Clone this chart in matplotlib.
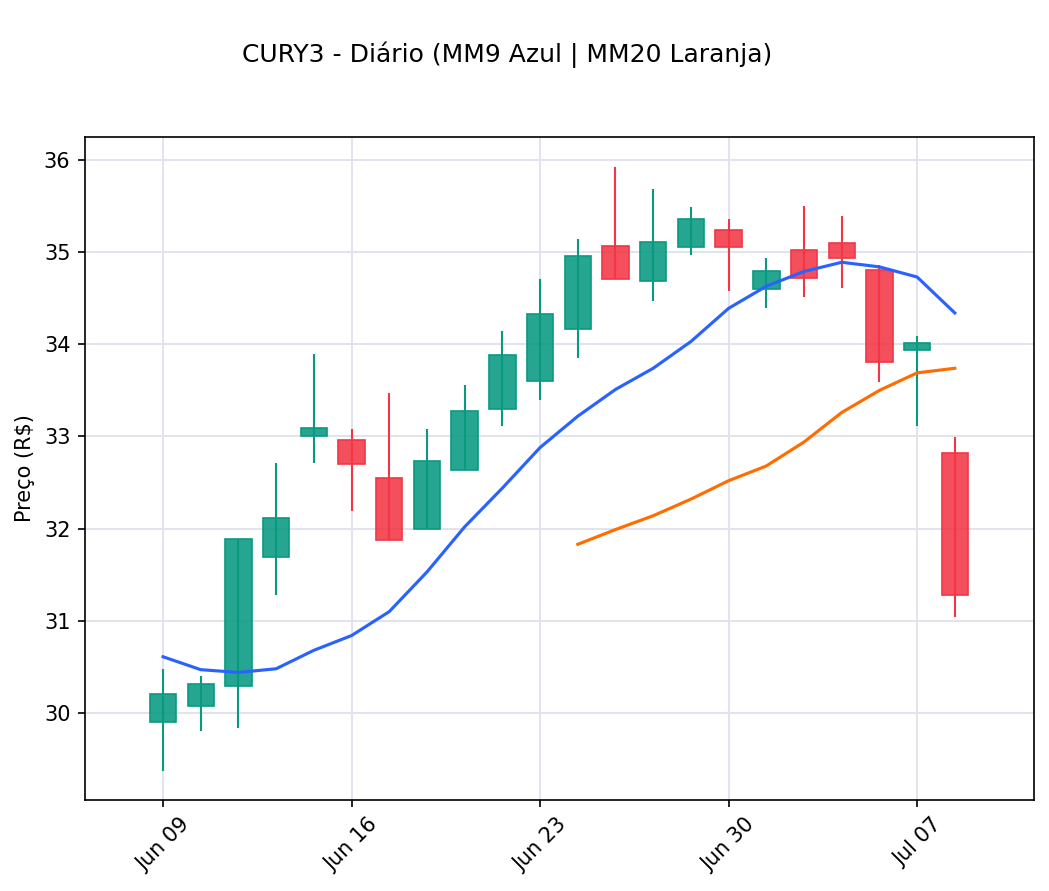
import matplotlib
matplotlib.use("Agg")
import matplotlib.pyplot as plt
import numpy as np
from matplotlib.patches import Rectangle
from matplotlib.colors import to_rgba

dates = ["Jun 09", "Jun 10", "Jun 11", "Jun 12", "Jun 13",
         "Jun 16", "Jun 17", "Jun 18", "Jun 19", "Jun 20",
         "Jun 23", "Jun 24", "Jun 25", "Jun 26", "Jun 27",
         "Jun 30", "Jul 01", "Jul 02", "Jul 03", "Jul 04",
         "Jul 07", "Jul 08"]
opens  = [29.90, 30.08, 30.29, 31.69, 33.00, 32.96, 32.55, 32.00, 32.64, 33.30,
          33.60, 34.17, 35.07, 34.69, 35.06, 35.24, 34.60, 35.02, 35.10, 34.81,
          33.94, 32.82]
highs  = [30.48, 30.40, 31.89, 32.71, 33.90, 33.08, 33.47, 33.08, 33.56, 34.14,
          34.71, 35.14, 35.92, 35.69, 35.49, 35.36, 34.94, 35.50, 35.39, 34.86,
          34.09, 32.99]
lows   = [29.37, 29.81, 29.84, 31.28, 32.71, 32.19, 31.88, 32.00, 32.64, 33.11,
          33.40, 33.85, 34.71, 34.47, 34.97, 34.58, 34.39, 34.51, 34.61, 33.59,
          33.11, 31.04]
closes = [30.21, 30.31, 31.89, 32.12, 33.09, 32.70, 31.88, 32.73, 33.28, 33.88,
          34.33, 34.96, 34.71, 35.11, 35.36, 35.06, 34.80, 34.72, 34.94, 33.81,
          34.01, 31.28]
mm9 = [30.61, 30.47, 30.44, 30.48, 30.68, 30.84, 31.10, 31.53, 32.02, 32.44,
       32.88, 33.22, 33.51, 33.74, 34.03, 34.39, 34.63, 34.79, 34.89, 34.84,
       34.73, 34.34]
mm20 = [np.nan] * 11 + [31.83, 31.99, 32.14, 32.32, 32.52, 32.68, 32.94, 33.26,
                        33.50, 33.69, 33.74]
tick_idx = [0, 5, 10, 15, 20]

up_color = "#089981"
dn_color = "#F23645"

W, H = 1049, 891
fig = plt.figure(figsize=(W/150, H/150), dpi=150)
ax = fig.add_axes([85/W, 1-800/H, (1034-85)/W, (800-137)/H])

x = np.arange(len(dates))
w = 0.7
for i in x:
    o, h, l, c = opens[i], highs[i], lows[i], closes[i]
    col = up_color if c >= o else dn_color
    ax.vlines(i, l, h, color=col, linewidth=1.0, zorder=2)
    ax.add_patch(Rectangle((i - w/2, min(o, c)), w, abs(c - o),
                           facecolor=to_rgba(col, 0.88), edgecolor=col,
                           linewidth=0.8, zorder=3))

ax.plot(x, mm9, color="#2962FF", linewidth=1.5, zorder=4)
ax.plot(x, mm20, color="#FF6D00", linewidth=1.5, zorder=4)

ax.set_xlim(-2.07, 23.1)
ax.set_ylim(29.056, 36.249)
ax.set_xticks(tick_idx)
ax.set_xticklabels([dates[i] for i in tick_idx], rotation=45, fontsize=10)
ax.set_yticks([30, 31, 32, 33, 34, 35, 36])
ax.tick_params(axis="y", labelsize=10)
ax.grid(True, color="#e0e3eb", linewidth=0.9)
ax.set_axisbelow(True)
ax.set_ylabel("Preço (R$)", fontsize=10)

fig.text(507/W, 1-55/H, "CURY3 - Diário (MM9 Azul | MM20 Laranja)",
         ha="center", va="center", fontsize=12)

fig.savefig("out.png", dpi=150)
